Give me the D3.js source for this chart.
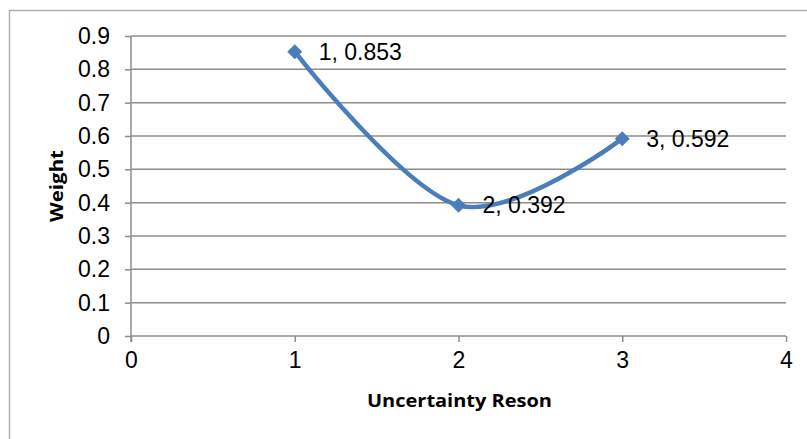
<!DOCTYPE html>
<html><head><meta charset="utf-8">
<script src="https://cdn.jsdelivr.net/npm/d3@7"></script>
<style>body{margin:0;background:#fff}svg{display:block}</style>
</head><body>
<svg id="c" width="807" height="439"></svg>
<script>
const xValues = [1, 2, 3];
const weights = [0.853, 0.392, 0.592];
const yTicks = [0, 0.1, 0.2, 0.3, 0.4, 0.5, 0.6, 0.7, 0.8, 0.9];
const xTicks = [0, 1, 2, 3, 4];
const xTitle = "Uncertainty Reson";
const yTitle = "Weight";

const svg = d3.select("#c");
const x = d3.scaleLinear().domain([0, 4]).range([131, 786]);
const y = d3.scaleLinear().domain([0, 0.9]).range([336, 36]);
const grid = "#8c8c8c";
const fnt = "Liberation Sans, Arial, sans-serif";

// outer frame
svg.append("rect").attr("x", 9.5).attr("y", 10.5).attr("width", 820).attr("height", 460)
  .attr("fill", "none").attr("stroke", "#b0b0b0").attr("stroke-width", 1.5);

// horizontal gridlines
svg.append("g").selectAll("line").data(yTicks.filter(d => d > 0)).join("line")
  .attr("x1", x(0)).attr("x2", x(4)).attr("y1", d => y(d)).attr("y2", d => y(d))
  .attr("stroke", grid).attr("stroke-width", 1.5);

// y axis
const ya = svg.append("g").attr("transform", `translate(${x(0)},0)`)
  .call(d3.axisLeft(y).tickValues(yTicks).tickSize(6).tickFormat(d => d === 0 ? "0" : d3.format(".1f")(d)).tickPadding(15));
ya.select(".domain").attr("stroke", grid).attr("stroke-width", 1.5).attr("d", `M0,${y(0.9)}V${y(0)+6}`);
ya.selectAll(".tick line").attr("stroke", grid).attr("stroke-width", 1.5);
ya.selectAll(".tick text").attr("font-family", fnt).attr("font-size", 23).attr("fill", "#000");

// x axis
const xa = svg.append("g").attr("transform", `translate(0,${y(0)})`)
  .call(d3.axisBottom(x).tickValues(xTicks).tickSize(6).tickFormat(d3.format("d")).tickPadding(10));
xa.select(".domain").attr("stroke", grid).attr("stroke-width", 1.5).attr("d", `M${x(0)},0H${x(4)}`);
xa.selectAll(".tick line").attr("stroke", grid).attr("stroke-width", 1.5);
xa.selectAll(".tick text").attr("font-family", fnt).attr("font-size", 23).attr("fill", "#000");

// titles
svg.append("text").attr("x", 459.5).attr("y", 407).attr("text-anchor", "middle")
  .attr("font-family", "Open Sans, sans-serif").attr("font-weight", "bold").attr("font-size", 17.5)
  .attr("textLength", 185).attr("lengthAdjust", "spacingAndGlyphs").text(xTitle);
svg.append("text").attr("transform", "translate(63,186) rotate(-90)").attr("text-anchor", "middle")
  .attr("font-family", "Open Sans, sans-serif").attr("font-weight", "bold").attr("font-size", 17.5)
  .attr("textLength", 72).attr("lengthAdjust", "spacingAndGlyphs").text(yTitle);

const data = xValues.map((v, i) => [v, weights[i]]);
const blue = "#4a7ebb";
svg.append("path").datum(data)
  .attr("d", d3.line().x(d => x(d[0])).y(d => y(d[1])).curve(d3.curveCardinal.tension(0)))
  .attr("fill", "none").attr("stroke", blue).attr("stroke-width", 4.5).attr("stroke-linecap", "round");

svg.append("g").selectAll("path").data(data).join("path")
  .attr("transform", d => `translate(${x(d[0])},${y(d[1])})`)
  .attr("d", "M0,-7.5L7.5,0L0,7.5L-7.5,0Z").attr("fill", blue);

svg.append("g").selectAll("text").data(data).join("text")
  .attr("x", d => x(d[0]) + 24).attr("y", d => y(d[1]) + 8)
  .attr("font-family", fnt).attr("font-size", 23).attr("fill", "#000")
  .text(d => `${d[0]}, ${d[1]}`);
</script>
</body></html>
